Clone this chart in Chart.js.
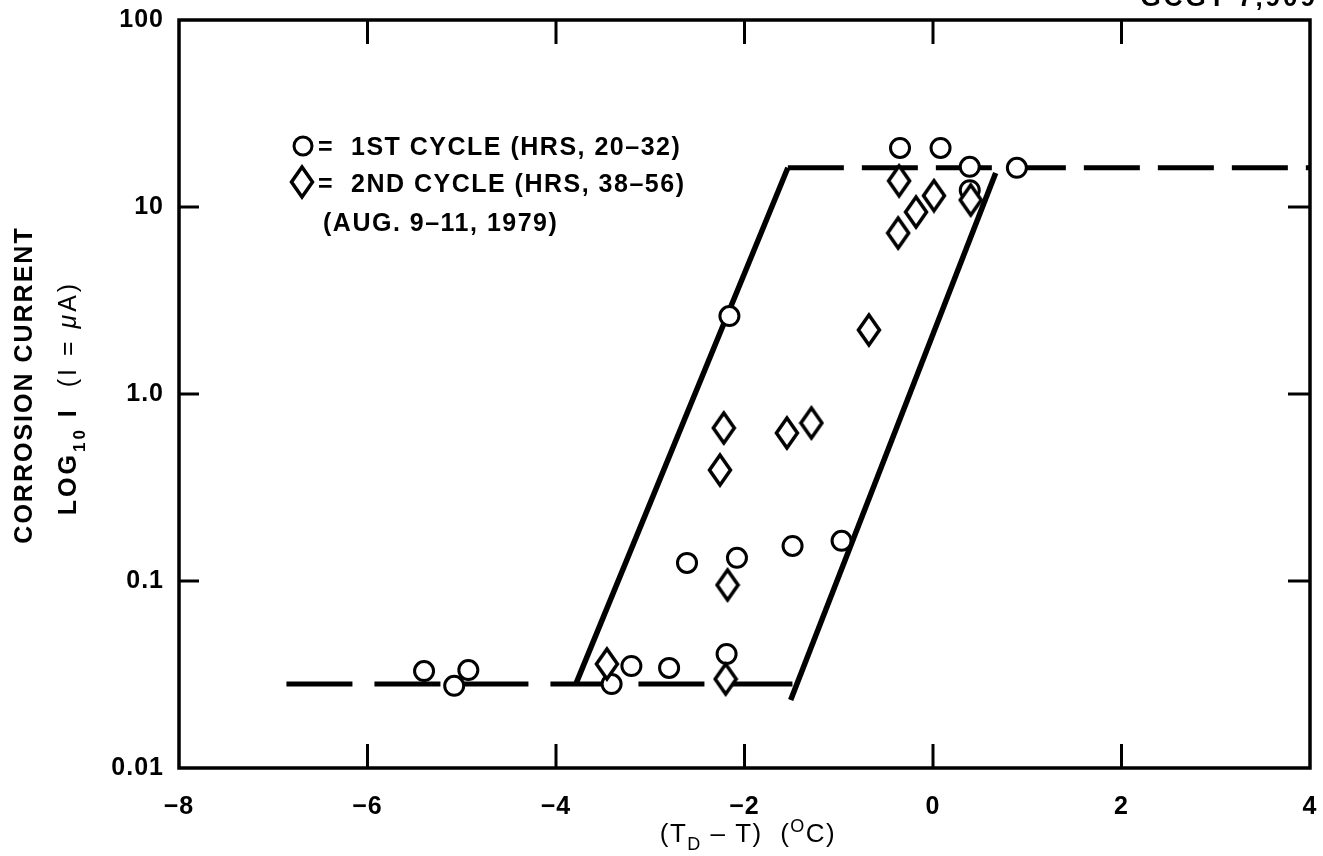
<!DOCTYPE html>
<html>
<head>
<meta charset="utf-8">
<script src="https://cdn.jsdelivr.net/npm/chart.js@4.4.1/dist/chart.umd.min.js"></script>
<style>
  body { margin: 0; background: #fff; }
  #wrap { width: 1323px; height: 856px; }
</style>
</head>
<body>
<div id="wrap"><canvas id="chart" width="1323" height="856"></canvas></div>
<script>
// axis ticks
const xTicks = [-8, -6, -4, -2, 0, 2, 4];
const xTickLabels = ['\u22128', '\u22126', '\u22124', '\u22122', '0', '2', '4'];
const yTicks = [0.01, 0.1, 1, 10, 100];
const yTickLabels = ['0.01', '0.1', '1.0', '10', '100'];
// inward tick marks on the frame
const xInnerTicks = [-6, -4, -2, 0, 2];
const yInnerTicks = [0.1, 1, 10];

// 1st cycle (HRS 20-32), circles
const cycle1X = [-5.40, -5.08, -4.93, -3.41, -3.20, -2.80, -2.61, -2.19, -2.08, -2.16, -1.49, -0.97, -0.35, 0.08, 0.39, 0.39, 0.89];
const cycle1Y = [0.0330, 0.0275, 0.0334, 0.0281, 0.0351, 0.0343, 0.125, 0.0407, 0.133, 2.61, 0.154, 0.164, 20.7, 20.7, 12.3, 16.4, 16.2];

// 2nd cycle (HRS 38-56), diamonds
const cycle2X = [-3.46, -2.20, -2.18, -2.26, -2.22, -1.55, -1.29, -0.68, -0.37, -0.18, 0.01, -0.36, 0.40];
const cycle2Y = [0.0360, 0.0299, 0.0952, 0.392, 0.658, 0.619, 0.700, 2.20, 7.26, 9.40, 11.5, 13.8, 10.9];

// envelope lines
const upperLevelX = [-1.54, 4.0];
const upperLevelY = [16.2, 16.2];
const lowerLevelX = [-6.86, -1.30];
const lowerLevelY = [0.0281, 0.0281];
const leftBoundX = [-3.79, -1.54];
const leftBoundY = [0.0281, 16.2];
const rightBoundX = [-1.51, 0.665];
const rightBoundY = [0.0231, 15.2];

function pts(xs, ys) {
  return xs.map((x, i) => ({ x: x, y: ys[i] }));
}

// diamond marker
function makeDiamond() {
  const c = document.createElement('canvas');
  c.width = 26; c.height = 36;
  const g = c.getContext('2d');
  g.beginPath();
  g.moveTo(13, 3); g.lineTo(23.5, 18); g.lineTo(13, 33); g.lineTo(2.5, 18); g.closePath();
  g.fillStyle = '#fff'; g.fill();
  g.lineWidth = 3.5; g.strokeStyle = '#000'; g.lineJoin = 'miter'; g.stroke();
  return c;
}
const diamond = makeDiamond();

function drawRuns(ctx, runs, x, y, align) {
  let total = 0;
  runs.forEach(r => { ctx.font = r.font; r.w = ctx.measureText(r.text).width; total += r.w; });
  let cx = align === 'center' ? x - total / 2 : x;
  ctx.textAlign = 'left';
  ctx.textBaseline = 'alphabetic';
  runs.forEach(r => {
    ctx.font = r.font;
    ctx.fillText(r.text, cx, y + (r.dy || 0));
    cx += r.w;
  });
}

const B25 = 'bold 25px "Liberation Sans"';
const R25 = '25px "Liberation Sans"';
const R26 = '26px "Liberation Sans"';
const B17 = 'bold 17px "Liberation Sans"';
const R18 = '18px "Liberation Sans"';

const decorPlugin = {
  id: 'decor',
  beforeDraw(chart) {
    chart.ctx.letterSpacing = '1px';
  },
  afterDraw(chart) {
    const ctx = chart.ctx;
    const a = chart.chartArea;
    const xs = chart.scales.x, ys = chart.scales.y;
    ctx.save();
    ctx.strokeStyle = '#000';
    ctx.fillStyle = '#000';
    // frame
    ctx.lineWidth = 3.5;
    ctx.strokeRect(a.left, a.top, a.right - a.left, a.bottom - a.top);
    // inward ticks
    ctx.lineWidth = 3;
    ctx.beginPath();
    xInnerTicks.forEach(v => {
      const p = xs.getPixelForValue(v);
      ctx.moveTo(p, a.top); ctx.lineTo(p, a.top + 24);
      ctx.moveTo(p, a.bottom); ctx.lineTo(p, a.bottom - 24);
    });
    yInnerTicks.forEach(v => {
      const p = ys.getPixelForValue(v);
      ctx.moveTo(a.left, p); ctx.lineTo(a.left + 20, p);
      ctx.moveTo(a.right, p); ctx.lineTo(a.right - 22, p);
    });
    ctx.stroke();

    // legend
    ctx.letterSpacing = '1.5px';
    ctx.lineWidth = 3;
    ctx.beginPath();
    ctx.arc(303, 146, 9, 0, Math.PI * 2);
    ctx.stroke();
    ctx.drawImage(diamond, 302 - 13, 182 - 18);
    drawRuns(ctx, [{ text: '=  1ST CYCLE (HRS, 20\u201332)', font: B25 }], 318, 155, 'left');
    drawRuns(ctx, [{ text: '=  2ND CYCLE (HRS, 38\u201356)', font: B25 }], 318, 192, 'left');
    drawRuns(ctx, [{ text: '(AUG. 9\u201311, 1979)', font: B25 }], 323, 231, 'left');

    // x title
    ctx.letterSpacing = '1.5px';
    drawRuns(ctx, [
      { text: '(T', font: R26 },
      { text: 'D', font: R18, dy: 8 },
      { text: ' \u2013 T)  (', font: R26 },
      { text: 'O', font: R18, dy: -10 },
      { text: 'C)', font: R26 }
    ], 748, 842, 'center');

    // y title
    ctx.letterSpacing = '2px';
    ctx.save();
    ctx.translate(32, 385);
    ctx.rotate(-Math.PI / 2);
    drawRuns(ctx, [{ text: 'CORROSION CURRENT', font: B25 }], 0, 0, 'center');
    ctx.restore();
    ctx.letterSpacing = '3px';
    ctx.save();
    ctx.translate(76, 398);
    ctx.rotate(-Math.PI / 2);
    drawRuns(ctx, [
      { text: 'LOG', font: B25 },
      { text: '10', font: B17, dy: 9 },
      { text: ' I  ', font: B25 },
      { text: '(I = ', font: R25 },
      { text: '\u03bc', font: 'italic 25px "Liberation Sans"' },
      { text: 'A)', font: R25 }
    ], 0, 0, 'center');
    ctx.restore();

    // clipped figure number at top right
    ctx.letterSpacing = '3px';
    ctx.font = 'bold 26px "Liberation Sans"';
    ctx.textAlign = 'right';
    ctx.textBaseline = 'alphabetic';
    ctx.fillText('GCGT 7,909', 1318, 6);
    ctx.restore();
  }
};

const lineBase = {
  type: 'line',
  showLine: true,
  borderColor: '#000',
  borderWidth: 5,
  pointRadius: 0,
  fill: false,
  tension: 0
};

new Chart(document.getElementById('chart'), {
  type: 'scatter',
  data: {
    datasets: [
      {
        label: '2ND CYCLE',
        data: pts(cycle2X, cycle2Y),
        pointStyle: diamond,
        pointRadius: 12
      },
      {
        label: '1ST CYCLE',
        data: pts(cycle1X, cycle1Y),
        pointStyle: 'circle',
        pointRadius: 9.5,
        borderWidth: 3,
        borderColor: '#000',
        backgroundColor: '#fff'
      },
      Object.assign({}, lineBase, { label: 'upper', data: pts(upperLevelX, upperLevelY), borderDash: [56, 18], borderCapStyle: 'butt' }),
      Object.assign({}, lineBase, { label: 'lower', data: pts(lowerLevelX, lowerLevelY), borderDash: [66, 22], borderCapStyle: 'butt' }),
      Object.assign({}, lineBase, { label: 'left', data: pts(leftBoundX, leftBoundY), borderWidth: 5.5 }),
      Object.assign({}, lineBase, { label: 'right', data: pts(rightBoundX, rightBoundY), borderWidth: 5.5 })
    ]
  },
  options: {
    responsive: false,
    animation: false,
    events: [],
    layout: { padding: { top: 20, right: 7, left: 0, bottom: 0 } },
    plugins: {
      legend: { display: false },
      tooltip: { enabled: false }
    },
    scales: {
      x: {
        type: 'linear',
        min: -8,
        max: 4,
        afterBuildTicks: s => { s.ticks = xTicks.map(v => ({ value: v })); },
        afterFit: s => { s.height = 88; s.paddingLeft = 0; s.paddingRight = 0; },
        grid: { display: false, drawTicks: false },
        border: { display: false },
        ticks: {
          padding: 24,
          color: '#000',
          font: { family: 'Liberation Sans', size: 25, weight: 'bold' },
          maxRotation: 0,
          autoSkip: false,
          callback: (v) => xTickLabels[xTicks.indexOf(v)]
        }
      },
      y: {
        type: 'logarithmic',
        min: 0.01,
        max: 100,
        afterBuildTicks: s => { s.ticks = yTicks.map(v => ({ value: v })); },
        afterFit: s => { s.width = 179; s.paddingTop = 0; s.paddingBottom = 0; },
        grid: { display: false, drawTicks: false },
        border: { display: false },
        ticks: {
          padding: 15,
          color: '#000',
          font: { family: 'Liberation Sans', size: 25, weight: 'bold' },
          autoSkip: false,
          callback: (v) => yTickLabels[yTicks.indexOf(v)]
        }
      }
    }
  },
  plugins: [decorPlugin]
});
</script>
</body>
</html>
